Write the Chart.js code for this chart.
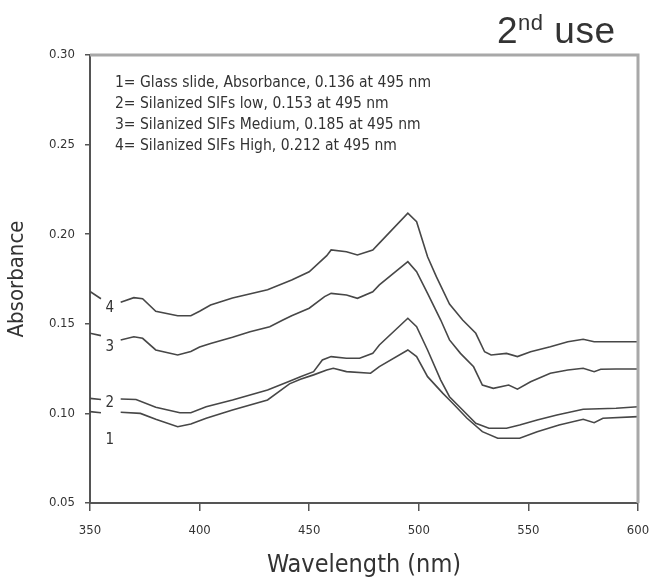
<!DOCTYPE html>
<html>
<head>
<meta charset="utf-8">
<script src="https://cdn.jsdelivr.net/npm/chart.js@4.4.0/dist/chart.umd.min.js"></script>
<style>
    html, body { margin: 0; padding: 0; background: #fff; }
    #wrap { position: relative; width: 654px; height: 586px; }
    #title {
        position: absolute; left: 497px; top: 10px;
        font-family: "Liberation Sans", Arial, sans-serif;
        font-size: 37px; color: #333; line-height: 42px;
        letter-spacing: 0.5px;
    }
    #title sup { font-size: 22px; vertical-align: 13px; line-height: 0; }
</style>
</head>
<body>
<div id="wrap">
    <canvas id="chart" width="654" height="586"></canvas>
    <div id="title">2<sup>nd</sup> use</div>
</div>
<script>
// wavelengths (nm) and absorbance of each curve
var wl1 = [350, 355, 359, 364, 373, 380, 390, 396, 403, 415, 431, 441, 446, 452, 458, 461, 467, 478, 482, 495, 499, 504, 511, 514, 517, 522, 529, 536, 546, 554, 564, 575, 580, 584, 600];
var abs1 = [0.101, 0.1004, null, 0.1006, 0.1, 0.0967, 0.0926, 0.0941, 0.0973, 0.1019, 0.1075, 0.1165, 0.119, 0.1215, 0.1242, 0.1252, 0.1233, 0.1224, 0.1261, 0.1354, 0.1317, 0.1205, 0.1112, 0.1075, 0.1037, 0.0973, 0.0898, 0.0861, 0.0861, 0.0898, 0.0935, 0.0967, 0.0948, 0.0973, 0.0982];

var wl2 = [350, 355, 359, 364, 371, 380, 391, 396, 403, 415, 431, 441, 446, 452, 456, 460, 467, 473, 479, 482, 495, 499, 504, 510, 514, 520, 526, 532, 540, 546, 554, 563, 575, 590, 600];
var abs2 = [0.1084, 0.1078, null, 0.108, 0.1078, 0.1034, 0.1004, 0.1004, 0.1037, 0.1075, 0.1131, 0.118, 0.1205, 0.1233, 0.1298, 0.1317, 0.1308, 0.1308, 0.1335, 0.1382, 0.1531, 0.1484, 0.1354, 0.1186, 0.1093, 0.1019, 0.0945, 0.0917, 0.0917, 0.0935, 0.0963, 0.0991, 0.1023, 0.1029, 0.1037];

var wl3 = [350, 355, 359, 364, 370, 374, 380, 390, 396, 400, 405, 415, 423, 432, 438, 442, 450, 457, 460, 467, 472, 479, 482, 495, 499, 504, 510, 514, 519, 525, 529, 534, 541, 545, 551, 560, 568, 575, 580, 583, 590, 600];
var abs3 = [0.1447, 0.1434, null, 0.141, 0.1428, 0.1419, 0.1354, 0.1326, 0.1345, 0.137, 0.139, 0.1425, 0.1456, 0.1484, 0.1521, 0.1545, 0.1587, 0.1652, 0.167, 0.1661, 0.1642, 0.1679, 0.1717, 0.1847, 0.1791, 0.167, 0.1521, 0.141, 0.1335, 0.126, 0.1158, 0.114, 0.1158, 0.1135, 0.1177, 0.1224, 0.1242, 0.1252, 0.1233, 0.1246, 0.1248, 0.1248];

var wl4 = [350, 355, 359, 364, 370, 374, 380, 390, 396, 400, 405, 415, 431, 442, 450, 458, 460, 467, 472, 479, 482, 495, 499, 504, 508, 514, 520, 526, 530, 533, 540, 545, 551, 560, 568, 575, 580, 590, 600];
var abs4 = [0.168, 0.164, null, 0.162, 0.1646, 0.164, 0.157, 0.1545, 0.1545, 0.157, 0.1605, 0.1644, 0.169, 0.1744, 0.179, 0.188, 0.1912, 0.1902, 0.1884, 0.1912, 0.195, 0.2117, 0.207, 0.1874, 0.1763, 0.161, 0.1521, 0.1447, 0.1344, 0.1326, 0.1335, 0.1317, 0.1344, 0.1372, 0.14, 0.1414, 0.14, 0.14, 0.14];

// curve numbers written next to the left axis
var curveNames = ['1', '2', '3', '4'];
var curveNameX = [359, 359, 359, 359];
var curveNameY = [0.0852, 0.1058, 0.1371, 0.1588];

// legend text in the top left corner of the plot
var legendLines = [
    '1= Glass slide, Absorbance, 0.136 at 495 nm',
    '2= Silanized SIFs low, 0.153 at 495 nm',
    '3= Silanized SIFs Medium, 0.185 at 495 nm',
    '4= Silanized SIFs High, 0.212 at 495 nm'
];

// axis ranges and ticks
var xMin = 350, xMax = 600, xStep = 50;
var yMin = 0.05, yMax = 0.30, yStep = 0.05;

var narrow = '"DejaVu Sans Condensed", "Liberation Sans Narrow", Arial, sans-serif';
var lineColor = '#474747';
var textColor = '#333';

// build points for one curve
function makePoints(xs, ys) {
    var points = [];
    for (var i = 0; i < xs.length; i++) {
        points.push({ x: xs[i], y: ys[i] });
    }
    return points;
}

// build one dataset
function makeDataset(name, xs, ys) {
    return {
        label: name,
        data: makePoints(xs, ys),
        borderColor: lineColor,
        borderWidth: 1.6,
        pointRadius: 0,
        tension: 0,
        fill: false,
        spanGaps: false
    };
}

// plugin that draws the frame, curve numbers and legend text
var extrasPlugin = {
    id: 'extras',
    afterDraw: function(chart) {
        var ctx = chart.ctx;
        var area = chart.chartArea;
        var xs = chart.scales.x;
        var ys = chart.scales.y;
        ctx.save();
        // light grey top and right border
        ctx.strokeStyle = '#a8a8a8';
        ctx.lineWidth = 3;
        ctx.beginPath();
        ctx.moveTo(area.left, area.top);
        ctx.lineTo(area.right, area.top);
        ctx.lineTo(area.right, area.bottom);
        ctx.stroke();
        // curve numbers
        ctx.fillStyle = textColor;
        ctx.font = '15px ' + narrow;
        ctx.textAlign = 'center';
        ctx.textBaseline = 'middle';
        for (var i = 0; i < curveNames.length; i++) {
            ctx.fillText(curveNames[i], xs.getPixelForValue(curveNameX[i]), ys.getPixelForValue(curveNameY[i]));
        }
        // legend lines
        ctx.font = '15.5px ' + narrow;
        ctx.textAlign = 'left';
        for (var j = 0; j < legendLines.length; j++) {
            ctx.fillText(legendLines[j], area.left + 25, area.top + 28 + j * 21);
        }
        ctx.restore();
    }
};

var ctx = document.getElementById('chart').getContext('2d');
var myChart = new Chart(ctx, {
    type: 'line',
    data: {
        datasets: [
            makeDataset('1', wl1, abs1),
            makeDataset('2', wl2, abs2),
            makeDataset('3', wl3, abs3),
            makeDataset('4', wl4, abs4)
        ]
    },
    options: {
        responsive: false,
        animation: false,
        layout: { padding: { top: 55, right: 16, left: 0, bottom: 0 } },
        plugins: {
            legend: { display: false },
            tooltip: { enabled: false }
        },
        scales: {
            x: {
                type: 'linear',
                min: xMin,
                max: xMax,
                afterFit: function(scale) {
                    scale.height = 83;
                    scale.paddingLeft = 0;
                    scale.paddingRight = 0;
                },
                ticks: {
                    stepSize: xStep,
                    color: textColor,
                    padding: 12,
                    maxRotation: 0,
                    font: { family: narrow, size: 13 }
                },
                grid: { drawOnChartArea: false, tickLength: 8, color: '#555', lineWidth: 1.5 },
                border: { display: true, color: '#555', width: 2 },
                title: {
                    display: true,
                    text: 'Wavelength (nm)',
                    color: textColor,
                    font: { family: narrow, size: 25 },
                    padding: { top: 0, bottom: 6 }
                }
            },
            y: {
                min: yMin,
                max: yMax,
                afterFit: function(scale) {
                    scale.width = 90;
                    scale.paddingTop = 0;
                    scale.paddingBottom = 0;
                },
                ticks: {
                    stepSize: yStep,
                    color: textColor,
                    padding: 10,
                    font: { family: narrow, size: 13 },
                    callback: function(value) { return value.toFixed(2); }
                },
                grid: { drawOnChartArea: false, tickLength: 5, color: '#555', lineWidth: 1.5 },
                border: { display: true, color: '#555', width: 2 },
                title: {
                    display: true,
                    text: 'Absorbance',
                    color: textColor,
                    font: { family: narrow, size: 22 },
                    padding: { top: 4, bottom: 0 }
                }
            }
        }
    },
    plugins: [extrasPlugin]
});
</script>
</body>
</html>
